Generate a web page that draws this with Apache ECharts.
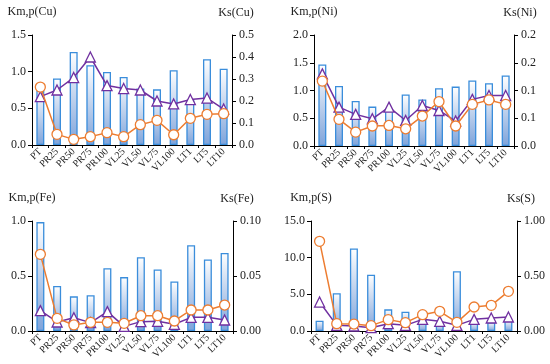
<!DOCTYPE html>
<html><head><meta charset="utf-8">
<script src="https://cdn.jsdelivr.net/npm/echarts@6/dist/echarts.min.js"></script>
<style>html,body{margin:0;padding:0;background:#fff}#c{width:550px;height:364px}</style>
</head><body><div id="c"></div>
<script>
var categories = ['PT','PR25','PR50','PR75','PR100','VL25','VL50','VL75','VL100','LT1','LT5','LT10'];

// Cu
var cuKs = [0.248,0.302,0.423,0.363,0.332,0.309,0.257,0.253,0.340,0.203,0.390,0.347];
var cuKp = [0.66,0.75,0.92,1.20,0.81,0.77,0.75,0.60,0.56,0.62,0.64,0.49];
var cuKm = [0.79,0.145,0.077,0.114,0.168,0.114,0.277,0.336,0.14,0.364,0.418,0.427];
// Ni
var niKs = [0.147,0.108,0.081,0.071,0.067,0.093,0.084,0.104,0.107,0.118,0.113,0.127];
var niKp = [1.30,0.70,0.57,0.49,0.70,0.46,0.73,0.64,0.45,0.84,0.91,0.91];
var niKm = [1.17,0.48,0.25,0.36,0.37,0.31,0.54,0.80,0.36,0.75,0.83,0.75];
// Fe
var feKs = [0.099,0.041,0.0315,0.0325,0.057,0.049,0.067,0.056,0.045,0.078,0.065,0.071];
var feKp = [0.185,0.082,0.121,0.076,0.176,0.042,0.085,0.088,0.061,0.124,0.124,0.100];
var feKm = [0.697,0.115,0.055,0.079,0.079,0.070,0.139,0.139,0.091,0.191,0.191,0.236];
// S
var sKs = [0.094,0.343,0.751,0.512,0.197,0.176,0.112,0.073,0.543,0.082,0.079,0.100];
var sKp = [3.95,0.77,0.68,0.45,1.00,0.77,1.59,1.32,0.77,1.59,1.77,1.91];
var sKm = [12.23,1.00,0.95,0.73,1.55,1.14,2.23,2.68,1.18,3.27,3.50,5.41];

// tick labels
var cuLeftTicks = ['0.0','0.5','1.0','1.5'];
var cuRightTicks = ['0.0','0.1','0.2','0.3','0.4','0.5'];
var niLeftTicks = ['0.0','0.5','1.0','1.5','2.0'];
var niRightTicks = ['0.0','0.1','0.1','0.2','0.2'];
var feLeftTicks = ['0.0','0.5','1.0'];
var feRightTicks = ['0.00','0.05','0.10'];
var sLeftTicks = ['0.0','5.0','10.0','15.0'];
var sRightTicks = ['0.00','0.50','1.00'];

var FONT = 'Liberation Serif';
var panels = [
  {el:'Cu', ks:cuKs, kp:cuKp, km:cuKm, lmax:1.5, li:0.5, rmax:0.5, ri:0.1, lt:cuLeftTicks, rt:cuRightTicks,
   grid:{left:32,right:318,top:35,height:110}},
  {el:'Ni', ks:niKs, kp:niKp, km:niKm, lmax:2.0, li:0.5, rmax:0.2, ri:0.05, lt:niLeftTicks, rt:niRightTicks,
   grid:{left:314,right:36,top:35,height:111}},
  {el:'Fe', ks:feKs, kp:feKp, km:feKm, lmax:1.0, li:0.5, rmax:0.10, ri:0.05, lt:feLeftTicks, rt:feRightTicks,
   grid:{left:32,right:317,top:221,height:110}},
  {el:'S', ks:sKs, kp:sKp, km:sKm, lmax:15, li:5, rmax:1.0, ri:0.5, lt:sLeftTicks, rt:sRightTicks,
   grid:{left:311,right:33,top:221,height:110}}
];

var grids=[], xAxes=[], yAxes=[], series=[];
var axisLine = {show:true, lineStyle:{color:'#000', width:1}};
panels.forEach(function(p,i){
  grids.push(p.grid);
  xAxes.push({type:'category', gridIndex:i, data:categories,
    axisLine:axisLine, axisTick:{show:true, length:3, lineStyle:{color:'#000'}},
    axisLabel:{rotate:45, fontSize:10, fontFamily:FONT, color:'#222', margin:5, interval:0}});
  var lt=p.lt, rt=p.rt;
  yAxes.push({type:'value', gridIndex:i, position:'left', min:0, max:p.lmax, interval:p.li,
    name:'Km,p('+p.el+')', nameLocation:'end', nameGap:17,
    nameTextStyle:{fontFamily:FONT, fontSize:12, color:'#222'},
    axisLine:axisLine, axisTick:{show:true, length:4, lineStyle:{color:'#000'}},
    splitLine:{show:false},
    axisLabel:{fontFamily:FONT, fontSize:12, color:'#222', margin:6,
      formatter:function(v,idx){return lt[idx];}}});
  yAxes.push({type:'value', gridIndex:i, position:'right', min:0, max:p.rmax, interval:p.ri,
    name:'Ks('+p.el+')', nameLocation:'end', nameGap:16,
    nameTextStyle:{fontFamily:FONT, fontSize:12, color:'#222', padding:[0,0,0,(i==1?12:8)]},
    axisLine:axisLine, axisTick:{show:true, length:4, lineStyle:{color:'#000'}},
    splitLine:{show:false},
    axisLabel:{fontFamily:FONT, fontSize:12, color:'#222', margin:7,
      formatter:function(v,idx){return rt[idx];}}});
  series.push({type:'bar', xAxisIndex:i, yAxisIndex:2*i+1, data:p.ks, barWidth:8,
    itemStyle:{borderColor:'#3a8ddb', borderWidth:1.3,
      color:new echarts.graphic.LinearGradient(0,0,0,1,[{offset:0,color:'#ffffff'},{offset:1,color:'#7ea3da'}])},
    silent:true});
  series.push({type:'line', xAxisIndex:i, yAxisIndex:2*i, data:p.kp, symbol:'triangle', symbolSize:10,
    lineStyle:{color:'#7030a0', width:1.5}, itemStyle:{color:'#fff', borderColor:'#7030a0', borderWidth:1.3}, z:3});
  series.push({type:'line', xAxisIndex:i, yAxisIndex:2*i, data:p.km, symbol:'circle', symbolSize:10,
    lineStyle:{color:'#ed7d31', width:1.5}, itemStyle:{color:'#fff', borderColor:'#ed7d31', borderWidth:1.3}, z:4});
});

var chart = echarts.init(document.getElementById('c'), null, {renderer:'canvas'});
chart.setOption({animation:false, backgroundColor:'#fff', grid:grids, xAxis:xAxes, yAxis:yAxes, series:series});
</script></body></html>
